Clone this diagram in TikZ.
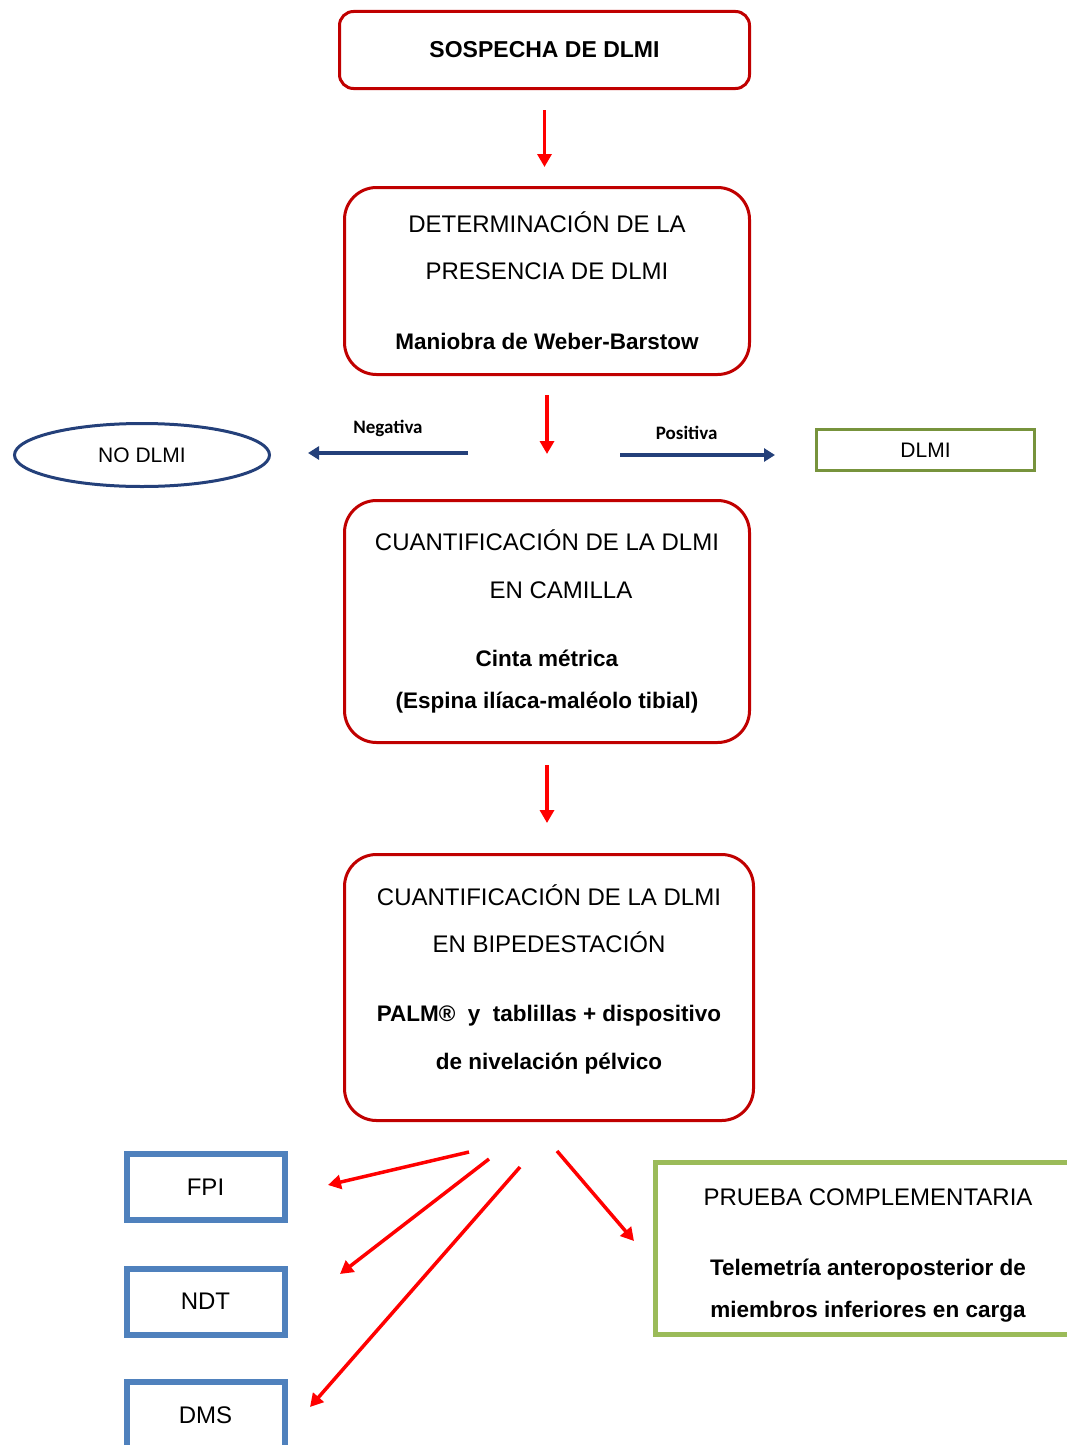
\documentclass[tikz,border=0pt]{standalone}
\usepackage{fontspec}
\setmainfont{Liberation Sans}
\newfontfamily\calibrif{Carlito}
\usetikzlibrary{arrows.meta,shapes.geometric}
\definecolor{rojobox}{RGB}{192,0,0}
\definecolor{rojoflecha}{RGB}{255,0,0}
\definecolor{azulosc}{RGB}{36,64,122}
\definecolor{azulcaja}{RGB}{79,129,189}
\definecolor{verdeosc}{RGB}{119,147,60}
\definecolor{verdecl}{RGB}{155,187,89}
\newcommand{\resalt}[1]{{\fontsize{22.5}{42}\selectfont\bfseries #1}}

\begin{document}
\begin{tikzpicture}[x=1pt, y=-1pt,
	cajaroja/.style={draw=rojobox, line width=3pt, rounded corners=32pt, align=center, font=\fontsize{24}{42}\selectfont},
	cajaazul/.style={draw=azulcaja, line width=6pt, minimum width=158pt, minimum height=66pt, font=\fontsize{24}{29}\selectfont},
	flecharoja/.style={draw=rojoflecha, line width=3.5pt, -{Triangle[length=13pt,width=14pt]}},
	flechaazul/.style={draw=azulosc, line width=4.5pt, -{Triangle[length=11pt,width=13pt]}},
	etiqueta/.style={font=\calibrif\bfseries\fontsize{19}{23}\selectfont}]
	\path[use as bounding box, clip] (0,0) rectangle (1067,1445);

	% cajas centrales
	\node[cajaroja, rounded corners=14pt, minimum width=410pt, minimum height=77pt, font=\fontsize{23}{28}\selectfont\bfseries] (sospecha) at (544.5,50) {SOSPECHA DE DLMI};
	\node[cajaroja, minimum width=405pt, minimum height=187pt] (determ) at (547,281)
		{DETERMINACIÓN DE LA\\[5pt] PRESENCIA DE DLMI\\[28pt] \resalt{Maniobra de Weber-Barstow}};
	\node[cajaroja, minimum width=405pt, minimum height=242pt] (camilla) at (547,621.5)
		{CUANTIFICACIÓN DE LA DLMI\\[6pt] \hspace*{28pt}EN CAMILLA\\[26pt] \resalt{Cinta métrica}\\ \resalt{(Espina ilíaca-maléolo tibial)}};
	\node[cajaroja, minimum width=409pt, minimum height=266pt, text depth=20pt] (bipede) at (549,987.5)
		{CUANTIFICACIÓN DE LA DLMI\\[5pt] EN BIPEDESTACIÓN\\[27pt] \resalt{PALM®\ \ y\ \ tablillas + dispositivo}\\[6pt] \resalt{de nivelación pélvico}};

	% resultado de la maniobra
	\node[draw=azulosc, line width=3pt, ellipse, minimum width=255pt, minimum height=63pt, font=\fontsize{21}{25}\selectfont] (nodlmi) at (142,455) {NO DLMI};
	\node[draw=verdeosc, line width=3.5pt, minimum width=218pt, minimum height=41pt, font=\fontsize{21}{25}\selectfont] (dlmi) at (925.5,450) {DLMI};

	% pruebas finales
	\foreach \n/\t/\y in {fpi/FPI/1187, ndt/NDT/1301.5, dms/DMS/1415}
		\node[cajaazul] (\n) at (205.5,\y) {\t};
	\node[draw=verdecl, line width=5pt, minimum width=425pt, minimum height=172pt, align=center, font=\fontsize{24}{42}\selectfont] (prueba) at (868,1248.5)
		{\rule{0pt}{30pt}PRUEBA COMPLEMENTARIA\\[28pt] \resalt{Telemetría anteroposterior de}\\ \resalt{miembros inferiores en carga}};

	% flechas verticales
	\draw[flecharoja, shorten <=20pt, shorten >=19pt] (sospecha.south) -- (sospecha.south |- determ.north);
	\draw[flecharoja, shorten <=19pt, shorten >=45pt] (determ.south) -- (determ.south |- camilla.north);
	\draw[flecharoja, shorten <=21pt, shorten >=30pt] (camilla.south) -- (camilla.south |- bipede.north);

	% negativa / positiva
	\coordinate (negIni) at (468,453);
	\coordinate (negFin) at (308,453);
	\coordinate (posIni) at (620,455);
	\coordinate (posFin) at (775,455);
	\draw[flechaazul] (negIni) -- (negFin) node[etiqueta, midway, above=11pt] (etneg) {Negativa};
	\draw[flechaazul] (posIni) -- (posFin) node[etiqueta, pos=0.43, above=10pt] (etpos) {Positiva};

	% flechas hacia las pruebas
	\coordinate (o1) at (469,1152);
	\coordinate (d1) at (328,1185);
	\coordinate (o2) at (489,1159);
	\coordinate (d2) at (340,1274);
	\coordinate (o3) at (520,1167);
	\coordinate (d3) at (310,1407);
	\coordinate (o4) at (557,1151);
	\coordinate (d4) at (634,1241);
	\foreach \i in {1,...,4}
		\draw[flecharoja] (o\i) -- (d\i);
\end{tikzpicture}
\end{document}
